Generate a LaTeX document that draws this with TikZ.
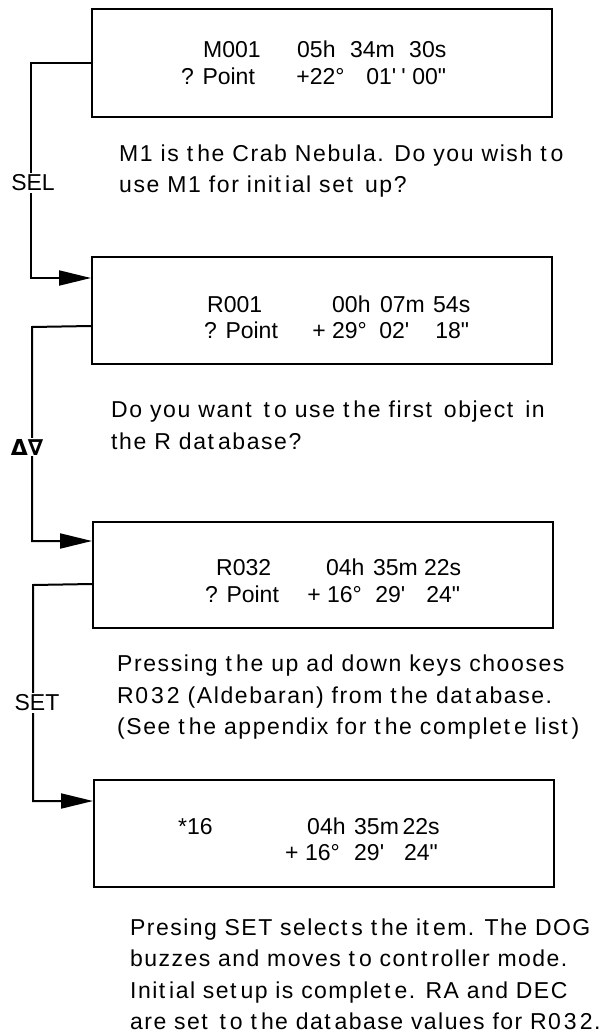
\documentclass[tikz,border=0pt]{standalone}
\usepackage{fontspec}
\setmainfont{Liberation Sans}[Ligatures=TeXOff]
\newfontfamily\spacedfont{Liberation Sans}[Ligatures=TeXOff,LetterSpace=6.9]
\newfontfamily\spacedfontb{Liberation Sans}[Ligatures=TeXOff,LetterSpace=6.3]
\newfontfamily\symfont{DejaVu Sans}
\newcommand\tk{t\kern4pt\relax}
\newcommand\dg{\kern3pt\relax}
\usetikzlibrary{arrows.meta}
\begin{document}
\begin{tikzpicture}[x=1pt,y=-1pt,
  box/.style={draw, line width=2pt, minimum width=460pt, inner sep=0pt},
  lcd/.style={anchor=base west, inner sep=0pt, font=\fontsize{23}{27}\selectfont},
  para/.style={anchor=base west, inner sep=0pt, font=\spacedfont\fontsize{23}{32}\selectfont},
  parab/.style={anchor=base west, inner sep=0pt, font=\spacedfontb\fontsize{23}{32}\selectfont},
  conn/.style={line width=2pt, -{Triangle[length=32pt,width=15pt]}},
  keylabel/.style={fill=white, inner sep=2pt, font=\fontsize{23}{27}\selectfont}]
\fill[white] (0,0) rectangle (614,1035);
\useasboundingbox (0,0) rectangle (614,1035);

% boxes
\node[box, minimum height=108pt] (box1) at (322,63) {};
\node[box, minimum height=107pt] (box2) at (322,310.5) {};
\node[box, minimum height=106pt] (box3) at (323,575) {};
\node[box, minimum height=107pt] (box4) at (324,833.5) {};

% box texts
\node[lcd] (b1l1) at (203,58) {M001\hspace{36.5pt}05h\hspace{14.6pt}34m\hspace{14.3pt}30s};
\node[lcd] (b1l2) at (181,85) {? Point\hspace{41.4pt}+22°\hspace{21.8pt}01'\hspace{5pt}'\hspace{6.6pt}00"};
\node[lcd] (b2l1) at (207,312) {R001\hspace{70pt}00h\hspace{9.6pt}07m\hspace{8.3pt}54s};
\node[lcd] (b2l2) at (204,338) {? Point\hspace{34.4pt}+ 29°\hspace{12.4pt}02'\hspace{26pt}18"};
\node[lcd] (b3l1) at (216,575) {R032\hspace{55pt}04h\hspace{8.6pt}35m\hspace{6.3pt}22s};
\node[lcd] (b3l2) at (205,602) {? Point\hspace{28.4pt}+ 16°\hspace{13.4pt}29'\hspace{21pt}24"};
\node[lcd] (b4l1) at (178,834) {*16\hspace{94.5pt}04h\hspace{8.6pt}35m\hspace{3.6pt}22s};
\node[lcd] (b4l2) at (285,860) {+ 16°\hspace{14.4pt}29'\hspace{20pt}24"};

% paragraphs
\node[para] (p1a) at (119,161) {M1 is \tk{}he Crab Nebula. Do you wish \tk{}o};
\node[para] (p1b) at (119,193) {use M1 for ini\tk{}ial se\tk{} up?};
\node[para] (p2a) at (111,417) {Do you wan\tk{} \tk{}o use \tk{}he firs\tk{} objec\tk{} in};
\node[para] (p2b) at (111,449) {the R da\tk{}abase?};
\node[para] (p3a) at (117,671) {Pressing \tk{}he up ad down keys chooses};
\node[para] (p3b) at (117,703) {R0\dg3\dg2 (Aldebaran) from \tk{}he da\tk{}abase.};
\node[para] (p3c) at (117,734) {(See \tk{}he appendix for \tk{}he comple\tk{}e lis\tk{})};
\node[parab] (p4a) at (130,935) {Presing SET selec\tk{}s \tk{}he i\tk{}em. The DOG};
\node[parab] (p4b) at (130,966) {buzzes and moves \tk{}o con\tk{}roller mode.};
\node[parab] (p4c) at (130,998) {Ini\tk{}ial se\tk{}up is comple\tk{}e. RA and DEC};
\node[parab] (p4d) at (130,1029) {are se\tk{} \tk{}o \tk{}he da\tk{}abase values for R0\dg3\dg2.};

% connectors
\coordinate (c1) at (31,63);
\coordinate (c2) at (32,327);
\coordinate (c3) at (33,585);
\draw[conn] (box1.west) -- (c1) |- ([yshift=-22pt]box2.north west);
\draw[conn] ([yshift=-70pt]box2.north west) -- (c2) |- ([yshift=-20pt]box3.north west);
\draw[conn] ([yshift=-63pt]box3.north west) -- (c3) |- ([yshift=-22pt]box4.north west);

% key labels
\node[keylabel] (sel) at (33,183) {SEL};
\node[keylabel, inner sep=1pt, font=\symfont\bfseries\fontsize{22}{24}\selectfont] (updn) at (27,447) {Δ∇};
\node[keylabel] (set) at (37,703) {SET};
\end{tikzpicture}
\end{document}
